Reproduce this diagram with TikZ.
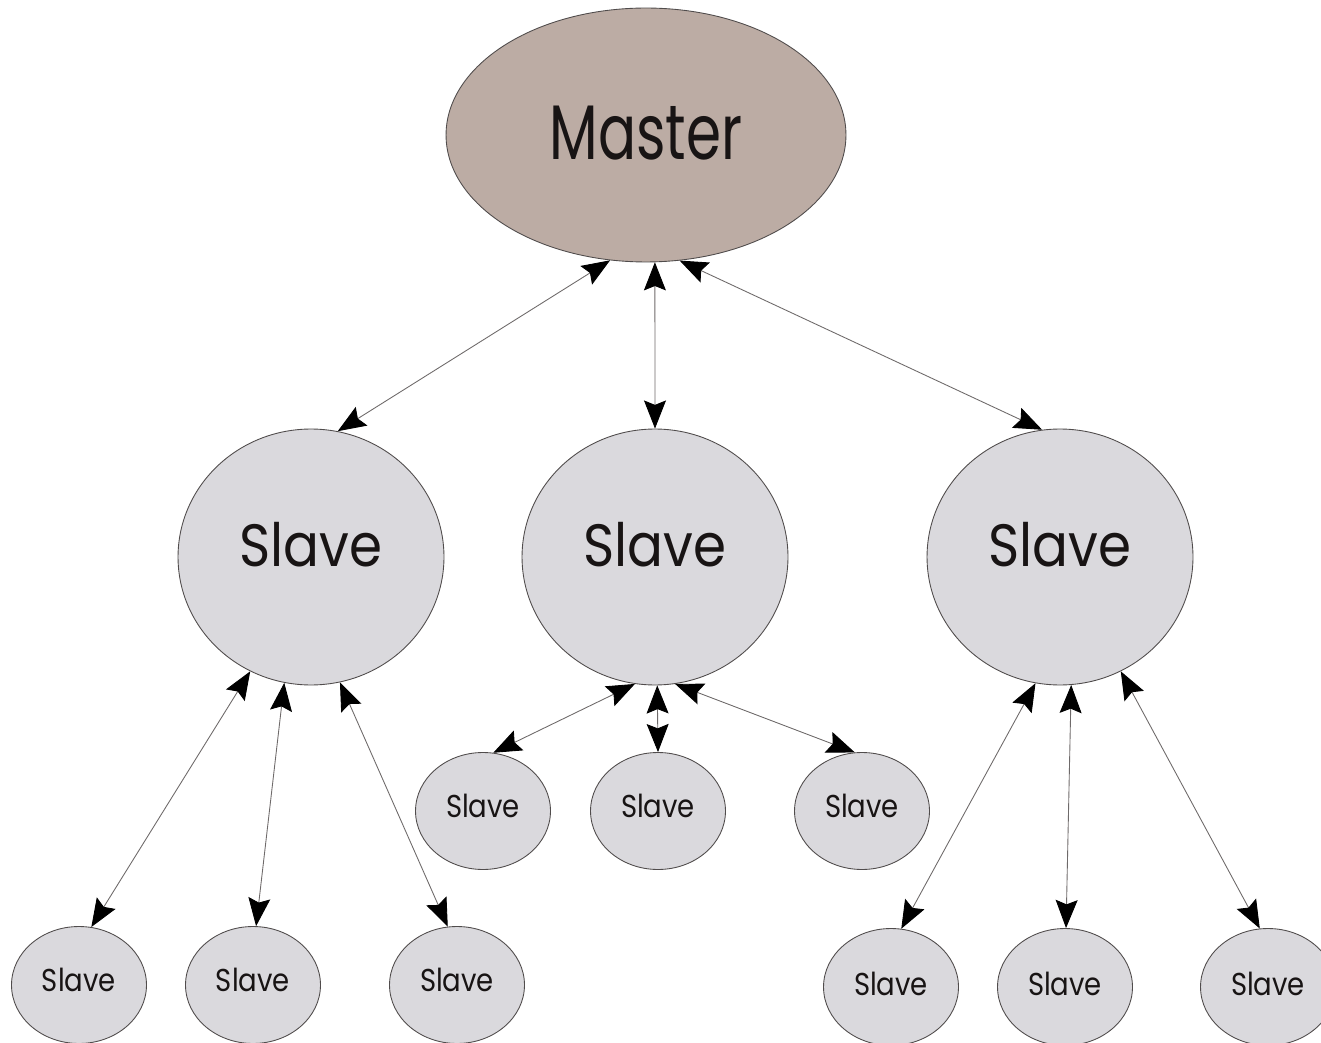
\documentclass[tikz,border=0pt]{standalone}
\usepackage{fontspec}
\setmainfont{Poppins}
\usetikzlibrary{shapes.geometric,arrows.meta}
\definecolor{masterfill}{RGB}{188,172,164}
\definecolor{slavefill}{RGB}{218,217,221}
\definecolor{edgecol}{RGB}{80,76,76}
\definecolor{linkcol}{RGB}{110,106,106}
\definecolor{inkcol}{RGB}{24,20,20}
% label set on its baseline, raised by #2 and narrowed by #1
\newcommand\lbl[3]{\raisebox{#2}[0pt][0pt]{\scalebox{#1}[1]{#3}}}
\tikzset{
  unit/.style={ellipse, draw=edgecol, line width=0.5pt, inner sep=0pt, text=inkcol},
  masternode/.style={unit, fill=masterfill, minimum width=8cm, minimum height=5.08cm, font=\fontsize{44}{44}\selectfont},
  bigslave/.style={unit, fill=slavefill, minimum width=5.32cm, minimum height=5.12cm, font=\fontsize{34}{34}\selectfont},
  smallslave/.style={unit, fill=slavefill, minimum width=2.7cm, minimum height=2.34cm, font=\fontsize{18}{18}\selectfont},
  headtip/.tip={Stealth[length=16pt,width=12.5pt,inset=2.5pt,color=black,fill=black]},
  link/.style={draw=linkcol, line width=0.5pt, headtip-headtip}
}
\begin{document}
\begin{tikzpicture}[x=0.02cm,y=-0.02cm]
\useasboundingbox (0,0) rectangle (1321,1043);

% top level
\node[masternode] (m) at (646,135) {\lbl{0.73}{-0.5cm}{Master}};

% second level
\node[bigslave] (s1) at (311,557) {\lbl{0.89}{-0.2cm}{Slave}};
\node[bigslave] (s2) at (655,557) {\lbl{0.89}{-0.2cm}{Slave}};
\node[bigslave] (s3) at (1060,557) {\lbl{0.89}{-0.2cm}{Slave}};

% leaves under the middle slave
\node[smallslave] (c1) at (483,811) {\lbl{0.87}{-0.12cm}{Slave}};
\node[smallslave] (c2) at (658,811) {\lbl{0.87}{-0.12cm}{Slave}};
\node[smallslave] (c3) at (862,811) {\lbl{0.87}{-0.12cm}{Slave}};

% leaves under the left slave
\node[smallslave] (a1) at (79,985) {\lbl{0.87}{-0.12cm}{Slave}};
\node[smallslave] (a2) at (253,985) {\lbl{0.87}{-0.12cm}{Slave}};
\node[smallslave] (a3) at (457,985) {\lbl{0.87}{-0.12cm}{Slave}};

% leaves under the right slave
\node[smallslave] (b1) at (891,987) {\lbl{0.87}{-0.16cm}{Slave}};
\node[smallslave] (b2) at (1065,987) {\lbl{0.87}{-0.16cm}{Slave}};
\node[smallslave] (b3) at (1268,987) {\lbl{0.87}{-0.16cm}{Slave}};

% master links
\draw[link] (m.-106) -- (s1.78);
\draw[link] (m.-86) -- (s2.90);
\draw[link] (m.-75) -- (s3.98);

% left branch
\draw[link] (s1.-118) -- (a1.78);
\draw[link] (s1.-102) -- (a2.87);
\draw[link] (s1.-77) -- (a3.99);

% middle branch
\draw[link] (s2.-99) -- (c1.80);
\draw[link] (s2.-89) -- (c2.90);
\draw[link] (s2.-81) -- (c3.97);

% right branch
\draw[link] (s3.-101) -- (b1.80);
\draw[link] (s3.-85) -- (b2.89);
\draw[link] (s3.-62) -- (b3.98);
\end{tikzpicture}
\end{document}
